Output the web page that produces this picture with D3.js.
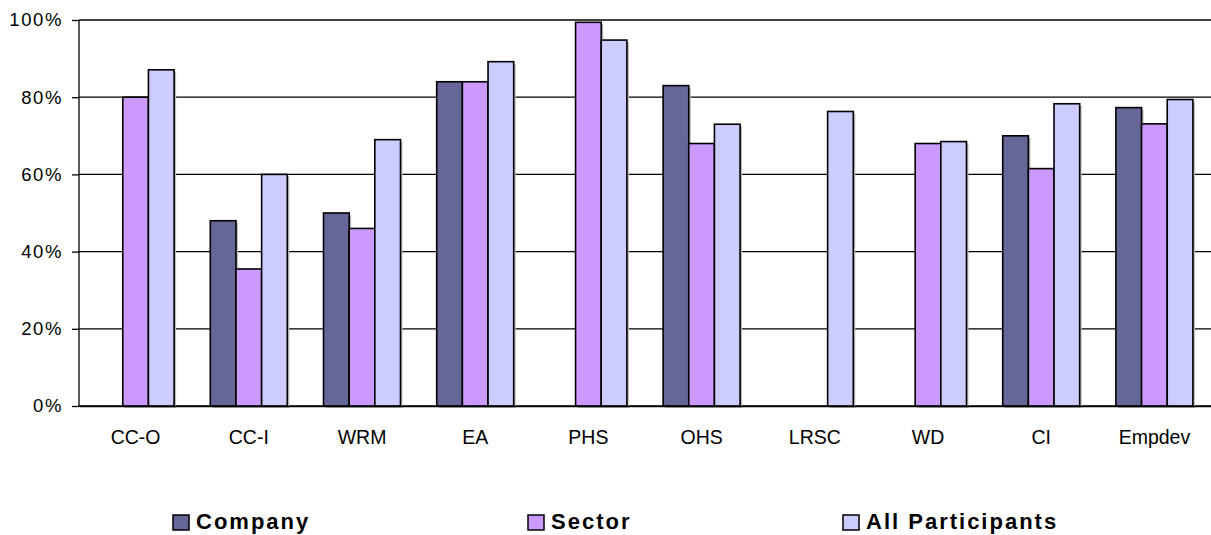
<!DOCTYPE html>
<html>
<head>
<meta charset="utf-8">
<script src="https://cdn.jsdelivr.net/npm/d3@7"></script>
<style>
  body { margin: 0; background: #fff; }
  text { font-family: "Liberation Sans", Arial, sans-serif; }
</style>
</head>
<body>
<div id="chart"></div>
<script>
// categories and series (percent values)
var categories = ["CC-O", "CC-I", "WRM", "EA", "PHS", "OHS", "LRSC", "WD", "CI", "Empdev"];
var seriesNames = ["Company", "Sector", "All Participants"];
var company = [null, 48, 50, 84, null, 83, null, null, 70, 77.3];
var sector = [80, 35.5, 46, 84, 99.4, 68, null, 68, 61.5, 73.1];
var allParticipants = [87.1, 60, 69, 89.2, 94.8, 73, 76.3, 68.5, 78.3, 79.4];
var yTicks = [0, 20, 40, 60, 80, 100];
var colors = ["#666699", "#CC99FF", "#CCCCFF"];

var W = 1211, H = 535;
var margin = {top: 20, right: 0, bottom: 129, left: 79};
var width = W - margin.left - margin.right,
    height = H - margin.top - margin.bottom;

var svg = d3.select("#chart").append("svg")
  .attr("width", W)
  .attr("height", H)
  .append("g")
  .attr("transform", "translate(" + margin.left + "," + margin.top + ")");

var x = d3.scaleBand()
  .domain(categories)
  .range([0, width])
  .paddingInner(0.32)
  .paddingOuter(0.16);

var xs = d3.scaleBand()
  .domain(seriesNames)
  .range([0, x.bandwidth()]);

var y = d3.scaleLinear()
  .domain([0, 100])
  .range([height, 0]);

// gridlines
svg.append("g")
  .selectAll("line")
  .data(yTicks)
  .enter().append("line")
  .attr("x1", 0)
  .attr("x2", width)
  .attr("y1", function(d) { return y(d); })
  .attr("y2", function(d) { return y(d); })
  .attr("stroke", "#000")
  .attr("stroke-width", 1.3);

// y axis
var yAxis = svg.append("g")
  .call(d3.axisLeft(y).tickValues(yTicks).tickSize(7).tickPadding(9)
        .tickFormat(function(d) { return d + "%"; }));
yAxis.select(".domain").attr("stroke", "#000").attr("stroke-width", 1.3)
  .attr("d", "M0," + height + "V0");
yAxis.selectAll(".tick line").attr("stroke-width", 1.3);
yAxis.selectAll("text").attr("font-size", 18.5).attr("fill", "#000")
  .attr("letter-spacing", 1.6)
  .attr("font-family", "Liberation Sans, Arial, sans-serif");

// bars
var rows = [];
categories.forEach(function(c, i) {
  [company, sector, allParticipants].forEach(function(s, j) {
    if (s[i] != null) rows.push({cat: c, series: seriesNames[j], value: s[i], color: colors[j]});
  });
});

var bars = svg.append("g");
// faint shadow
bars.selectAll("rect.shadow")
  .data(rows)
  .enter().append("rect")
  .attr("class", "shadow")
  .attr("x", function(d) { return x(d.cat) + xs(d.series) + 2; })
  .attr("y", function(d) { return y(d.value) + 2; })
  .attr("width", xs.bandwidth())
  .attr("height", function(d) { return height - y(d.value); })
  .attr("fill", "#bbb");

bars.selectAll("rect.bar")
  .data(rows)
  .enter().append("rect")
  .attr("class", "bar")
  .attr("x", function(d) { return x(d.cat) + xs(d.series); })
  .attr("y", function(d) { return y(d.value); })
  .attr("width", xs.bandwidth())
  .attr("height", function(d) { return height - y(d.value); })
  .attr("fill", function(d) { return d.color; })
  .attr("stroke", "#000")
  .attr("stroke-width", 1.6);

// x axis
var xAxis = svg.append("g")
  .attr("transform", "translate(0," + height + ")")
  .call(d3.axisBottom(x).tickSize(0).tickPadding(24));
xAxis.select(".domain").attr("stroke", "#000").attr("stroke-width", 1.3);
xAxis.selectAll("text").attr("font-size", 19.5).attr("fill", "#000")
  .attr("font-family", "Liberation Sans, Arial, sans-serif");

// legend
var legendX = [172, 527, 842];
var legend = svg.append("g")
  .attr("transform", "translate(" + (-margin.left) + "," + (-margin.top) + ")");
seriesNames.forEach(function(n, i) {
  legend.append("rect")
    .attr("x", legendX[i] + 1)
    .attr("y", 515)
    .attr("width", 16)
    .attr("height", 15)
    .attr("fill", colors[i])
    .attr("stroke", "#000")
    .attr("stroke-width", 1.5);
  legend.append("text")
    .attr("x", legendX[i] + 24)
    .attr("y", 529)
    .attr("font-size", 22)
    .attr("font-weight", "bold")
    .attr("letter-spacing", 2)
    .text(n);
});
</script>
</body>
</html>
